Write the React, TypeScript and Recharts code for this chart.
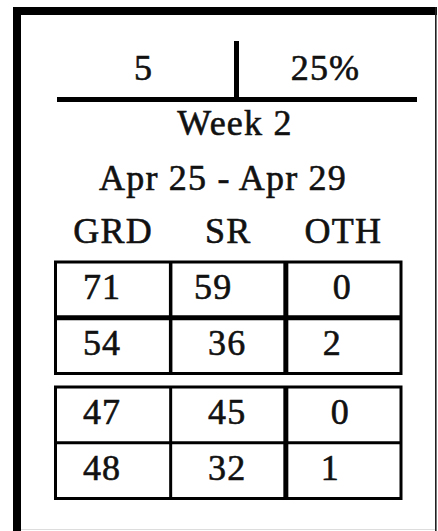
import React from "react";
import {
  ScatterChart,
  Scatter,
  XAxis,
  YAxis,
  ReferenceArea,
  ReferenceLine,
} from "recharts";

const columns = ["GRD", "SR", "OTH"];
const grdValues = [71, 54, 47, 48];
const srValues = [59, 36, 45, 32];
const othValues = [0, 2, 0, 1];

const headerCount = "5";
const headerPercent = "25%";
const weekLabel = "Week 2";
const dateRange = "Apr 25 - Apr 29";

const W = 438;
const H = 531;
const GAP = 0.24; // space between the two blocks, in rows
const FONT = '"Liberation Serif", "Times New Roman", serif';
const INK = "#111";

// the numbers in the source aren't centred consistently, so nudge them a bit
const nudge = [
  [-11, -15, -1],
  [-11, -1, -11],
  [-11, -1, -3],
  [-11, -1, -13],
];

const rowPos = (i: number) => i + 0.5 + (i >= 2 ? GAP : 0);

const cells = [grdValues, srValues, othValues].flatMap((vals, col) =>
  vals.map((v, row) => ({ x: col + 0.5, y: rowPos(row), v, row, col }))
);

const textStyle = {
  fontFamily: FONT,
  fontSize: 36,
  letterSpacing: 1.2,
  fill: INK,
  stroke: INK,
  strokeWidth: 0.6,
};

function HeaderTick(props: any) {
  const { x, y, payload } = props;
  return (
    <text x={x} y={y - 19} textAnchor="middle" style={textStyle}>
      {columns[Math.round(payload.value - 0.5)]}
    </text>
  );
}

function CellText(props: any) {
  const { cx, cy, payload } = props;
  return (
    <text
      x={cx + nudge[payload.row][payload.col]}
      y={cy + 9}
      textAnchor="middle"
      style={textStyle}
    >
      {payload.v}
    </text>
  );
}

function Header() {
  return (
    <svg
      width={W}
      height={H}
      style={{ position: "absolute", left: 0, top: 0 }}
    >
      {/* outer frame */}
      <rect x={13} y={7} width={8} height={H - 7} fill="#000" />
      <rect x={13} y={7} width={424} height={8} fill="#000" />
      <rect x={435} y={7} width={1.6} height={H - 7} fill="#222" />
      <rect x={21} y={529} width={414} height={1} fill="#ddd" />

      {/* T-bar under the count / percent */}
      <rect x={57} y={97} width={360} height={5} fill="#000" />
      <rect x={234} y={41} width={5} height={58} fill="#000" />

      <text x={143.5} y={80} textAnchor="middle" style={textStyle}>
        {headerCount}
      </text>
      <text x={325.5} y={80} textAnchor="middle" style={textStyle}>
        {headerPercent}
      </text>
      <text x={235} y={135} textAnchor="middle" style={textStyle}>
        {weekLabel}
      </text>
      <text x={223} y={190} textAnchor="middle" style={textStyle}>
        {dateRange}
      </text>
    </svg>
  );
}

export default function App() {
  const b1 = 2 + GAP;
  const b2 = 4 + GAP;
  return (
    <div
      style={{
        position: "absolute",
        left: 0,
        top: 0,
        width: W,
        height: H,
        background: "#fff",
      }}
    >
      <Header />
      <div style={{ position: "absolute", left: 0, top: 0 }}>
        <ScatterChart
          width={W}
          height={H}
          margin={{ top: 232, left: 55.5, right: 37, bottom: 32.5 }}
        >
          <XAxis
            type="number"
            dataKey="x"
            domain={[0, 3]}
            ticks={[0.5, 1.5, 2.5]}
            interval={0}
            orientation="top"
            height={30}
            axisLine={false}
            tickLine={false}
            tickSize={0}
            tickMargin={0}
            tick={<HeaderTick />}
          />
          <YAxis type="number" dataKey="y" domain={[0, b2]} reversed hide />

          <ReferenceArea x1={0} x2={3} y1={0} y2={2} fill="none" fillOpacity={0} stroke="#000" strokeWidth={3} />
          <ReferenceArea x1={0} x2={3} y1={b1} y2={b2} fill="none" fillOpacity={0} stroke="#000" strokeWidth={3} />

          <ReferenceLine y={1} stroke="#000" strokeWidth={5} />
          <ReferenceLine y={b1 + 1} stroke="#000" strokeWidth={3} />
          <ReferenceLine segment={[{ x: 1, y: 0 }, { x: 1, y: 2 }]} stroke="#000" strokeWidth={3.5} />
          <ReferenceLine segment={[{ x: 1, y: b1 }, { x: 1, y: b2 }]} stroke="#000" strokeWidth={3} />
          <ReferenceLine segment={[{ x: 2, y: 0 }, { x: 2, y: 2 }]} stroke="#000" strokeWidth={5} />
          <ReferenceLine segment={[{ x: 2, y: b1 }, { x: 2, y: b2 }]} stroke="#000" strokeWidth={5} />

          <Scatter data={cells} shape={<CellText />} isAnimationActive={false} />
        </ScatterChart>
      </div>
    </div>
  );
}
